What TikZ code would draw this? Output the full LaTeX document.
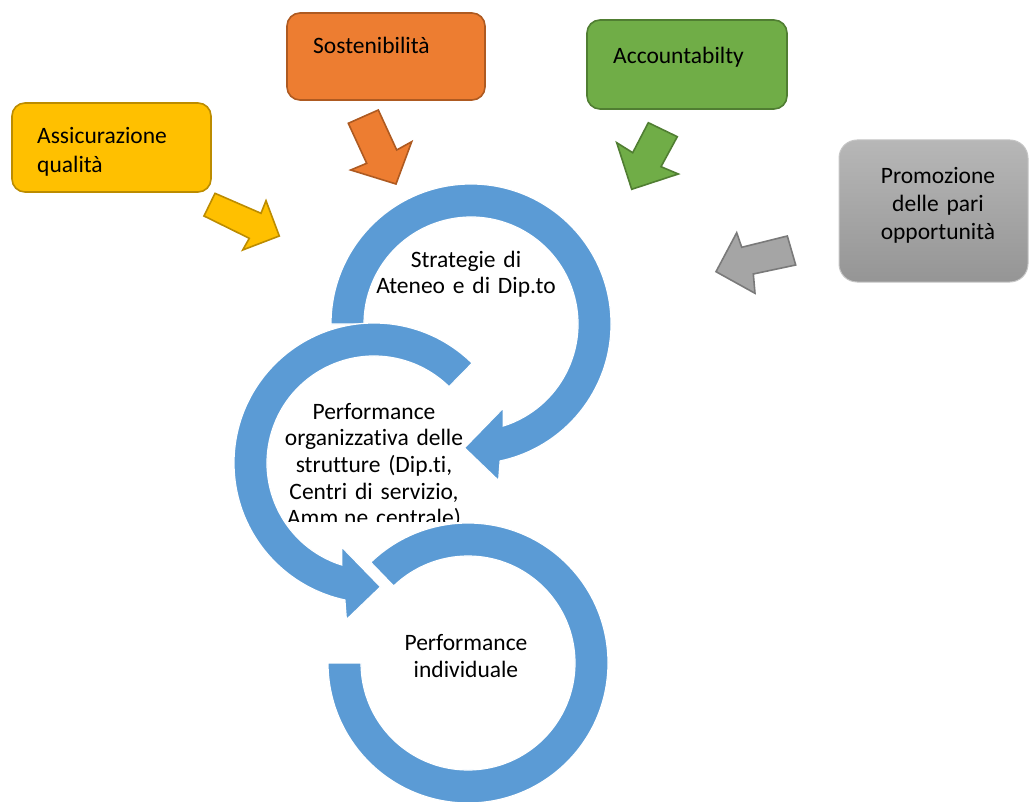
\documentclass[tikz,border=0pt]{standalone}
\usepackage{fontspec}
\setmainfont{Carlito}[Ligatures=NoCommon]
\definecolor{ringblue}{HTML}{5B9BD5}
\definecolor{yelfill}{HTML}{FFC000}
\definecolor{yeldraw}{HTML}{BC8C00}
\definecolor{orgfill}{HTML}{ED7D31}
\definecolor{orgdraw}{HTML}{AE5A21}
\definecolor{grnfill}{HTML}{70AD47}
\definecolor{grndraw}{HTML}{507E32}
\definecolor{gryfill}{HTML}{A5A5A5}
\definecolor{grydraw}{HTML}{7A7A7A}
\definecolor{grytop}{HTML}{B7B7B7}
\definecolor{grybot}{HTML}{959595}
\begin{document}
\begin{tikzpicture}[x=1pt,y=1pt,
  ring/.style={fill=ringblue, draw=white, line width=1.2pt},
  boxshape/.style={rectangle, rounded corners=13pt, line width=1.6pt, inner sep=0pt},
  blockarrow/.style={line width=1.6pt, line join=miter},
  boxtxt/.style={font=\fontsize{23.5}{29}\selectfont, inner sep=0pt, anchor=base west, align=left, text width=180pt},
  circtxt/.style={font=\fontsize{23.5}{26.7}\selectfont, inner sep=0pt, anchor=base, align=center, text width=240pt}]
\useasboundingbox (0,0) rectangle (1030,-802);

% centres of the three circular arrows
\coordinate (C1) at (471,-324);
\coordinate (C2) at (374,-463);
\coordinate (C3) at (468,-663);

% circular arrow 1
\path[ring] ([shift={(180:140)}]C1) arc[start angle=180,end angle=-78,radius=140]
  -- ([shift={(-80:159)}]C1) -- ([shift={(-93:124)}]C1) -- ([shift={(-69:90)}]C1)
  -- ([shift={(-72.5:107)}]C1) arc[start angle=-72.5,end angle=180,radius=107] -- cycle;
% circular arrow 2
\path[ring] ([shift={(45.5:140)}]C2) arc[start angle=45.5,end angle=258,radius=140]
  -- ([shift={(260:159)}]C2) -- ([shift={(273:124)}]C2) -- ([shift={(249:90)}]C2)
  -- ([shift={(252.5:107)}]C2) arc[start angle=252.5,end angle=45.5,radius=107] -- cycle;
% circular arrow 3
\path[ring] ([shift={(134:140)}]C3) arc[start angle=134,end angle=-180,radius=140]
  -- ([shift={(180:107)}]C3) arc[start angle=-180,end angle=134,radius=107] -- cycle;

% texts in the circles
\node[circtxt] (t1) at (466,-267.3) {Strategie di\\Ateneo e di Dip.to};
\begin{scope}
  \clip (240,-380) rectangle (510,-521);
  \node[circtxt] (t2) at (374,-419) {Performance\\organizzativa delle\\strutture (Dip.ti,\\Centri di servizio,\\Amm.ne centrale)};
\end{scope}
\node[circtxt] (t3) at (466,-650.7) {Performance\\individuale};

% boxes
\node[boxshape, fill=yelfill, draw=yeldraw, minimum width=199pt, minimum height=89pt] (b1) at (111.5,-147.5) {};
\node[boxshape, fill=orgfill, draw=orgdraw, minimum width=198pt, minimum height=87pt] (b2) at (386,-56.5) {};
\node[boxshape, fill=grnfill, draw=grndraw, minimum width=200pt, minimum height=89pt] (b3) at (687,-64.5) {};
\node[boxshape, rounded corners=18pt, top color=grytop, bottom color=grybot, draw=grytop!80!white, line width=1pt, minimum width=189pt, minimum height=142pt] (b4) at (933.5,-211) {};

\node[boxtxt] (l1) at (37,-143.3) {Assicurazione\\qualità};
\node[boxtxt] (l2) at (313,-53.3) {Sostenibilità};
\node[boxtxt] (l3) at (613,-63.3) {Accountabilty};
\node[boxtxt, anchor=base, align=center, text width=170pt, font=\fontsize{23.5}{28}\selectfont] (l4) at (938,-184) {Promozione\\delle pari\\opportunità};

% block arrows
\draw[blockarrow, fill=yelfill, draw=yeldraw] (215,-193.3) -- (261,-213.3) -- (266,-200.7) -- (279.3,-236) -- (242.7,-250) -- (249.3,-238.3) -- (204,-216) -- cycle;
\draw[blockarrow, fill=orgfill, draw=orgdraw] (348.3,-123.3) -- (378.3,-110) -- (396.7,-150) -- (411.7,-141.7) -- (396,-184) -- (350.7,-170) -- (366.7,-163.3) -- cycle;
\draw[blockarrow, fill=grnfill, draw=grndraw] (648.3,-122.7) -- (677.3,-136.7) -- (661,-166.7) -- (678.3,-174) -- (631.7,-189.3) -- (616.7,-142.7) -- (632.7,-152.7) -- cycle;
\draw[blockarrow, fill=gryfill, draw=grydraw] (787.3,-236) -- (795.7,-265) -- (753.3,-274) -- (755,-293.3) -- (716,-271.7) -- (736.7,-232.7) -- (741.7,-247.3) -- cycle;
\end{tikzpicture}
\end{document}
